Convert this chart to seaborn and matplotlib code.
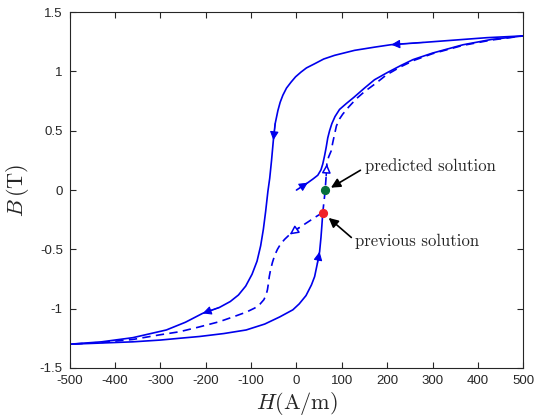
import numpy as np
import pandas as pd
import matplotlib
matplotlib.use('Agg')
import matplotlib.pyplot as plt
import seaborn as sns

# major loop, descending branch (H in A/m, B in T)
h_desc = [500, 420, 350, 280, 209, 172, 128, 84, 60, 40, 22, 10, -2, -12, -22, -30, -36, -41, -47,
          -51, -55, -59, -63, -68, -73, -79, -87, -98, -112, -128, -146, -170, -207, -245, -287,
          -361, -430, -500]
b_desc = [1.30, 1.285, 1.265, 1.245, 1.226, 1.205, 1.178, 1.136, 1.105, 1.065, 1.03, 0.995, 0.955,
          0.91, 0.86, 0.80, 0.74, 0.67, 0.56, 0.42, 0.25, 0.10, -0.01, -0.18, -0.33, -0.47, -0.60,
          -0.71, -0.81, -0.885, -0.94, -0.99, -1.04, -1.115, -1.18, -1.245, -1.28, -1.30]

# major loop, ascending branch up to the previous solution
h_asc_lo = [-500, -430, -361, -300, -258, -214, -160, -111, -70, -37, -8, 6, 21, 33, 40, 46, 51,
            54, 56, 58]
b_asc_lo = [-1.30, -1.29, -1.28, -1.265, -1.25, -1.235, -1.21, -1.18, -1.13, -1.07, -1.01, -0.96,
            -0.89, -0.80, -0.73, -0.62, -0.52, -0.40, -0.30, -0.19]

# ascending branch, upper part
h_asc_hi = [0, 14, 25, 37, 47, 54, 58, 62, 65.5, 69, 73, 78, 85, 95, 110, 126, 150, 172, 200, 230,
            257, 300, 367, 430, 500]
b_asc_hi = [0.0, 0.035, 0.062, 0.095, 0.125, 0.17, 0.22, 0.29, 0.36, 0.44, 0.50, 0.56, 0.62, 0.68,
            0.73, 0.78, 0.86, 0.93, 0.99, 1.05, 1.10, 1.155, 1.225, 1.27, 1.30]

# dashed curves starting from the previous solution
h_dash_dn = [58, 45, 25, 5, -15, -26, -35, -42, -48, -53, -57, -60, -62, -64, -67, -72, -80, -92,
             -111, -140, -170, -215, -258, -300, -361, -430, -500]
b_dash_dn = [-0.19, -0.22, -0.27, -0.32, -0.375, -0.415, -0.455, -0.50, -0.55, -0.61, -0.67,
             -0.73, -0.79, -0.84, -0.885, -0.925, -0.96, -0.995, -1.03, -1.07, -1.11, -1.155,
             -1.195, -1.22, -1.26, -1.285, -1.30]
h_dash_up = [58, 60, 62, 64, 65.5, 67, 71, 76.5, 80, 84, 88, 95, 102, 115, 132, 150, 175, 198,
             230, 260, 300, 367, 430, 500]
b_dash_up = [-0.19, -0.12, -0.05, 0.04, 0.12, 0.22, 0.28, 0.33, 0.40, 0.47, 0.54, 0.60, 0.64, 0.70,
             0.77, 0.83, 0.90, 0.97, 1.04, 1.095, 1.15, 1.22, 1.265, 1.30]

prev_sol = (58, -0.19)
pred_sol = (63, 0.0)

sns.set_theme(style='ticks')
plt.rcParams['font.family'] = ['Liberation Sans', 'DejaVu Sans']
plt.rcParams['mathtext.fontset'] = 'cm'

blue = '#0000ec'
fig, ax = plt.subplots(figsize=(5.45, 4.2), dpi=100)
fig.subplots_adjust(left=0.128, right=0.960, top=0.971, bottom=0.124)

curves = [(h_desc, b_desc, '-'), (h_asc_lo, b_asc_lo, '-'), (h_asc_hi, b_asc_hi, '-'),
          (h_dash_dn, b_dash_dn, '--'), (h_dash_up, b_dash_up, '--')]
for hh, bb, ls in curves:
    df = pd.DataFrame({'H': hh, 'B': bb})
    sns.lineplot(data=df, x='H', y='B', sort=False, estimator=None, color=blue, lw=1.2, ax=ax)
    if ls == '--':
        ax.lines[-1].set_dashes((5, 3.2))


def head(hh, bb, i, filled=True):
    ax.annotate('', xy=(hh[i], bb[i]), xytext=(hh[i - 1], bb[i - 1]),
                arrowprops=dict(arrowstyle='-|>', mutation_scale=13, shrinkA=0, shrinkB=0,
                                fc=blue if filled else 'white', ec=blue,
                                lw=0.8 if filled else 1.1))


head(h_desc, b_desc, 4)
head(h_desc, b_desc, 19)
head(h_desc, b_desc, 32)
head(h_asc_lo, b_asc_lo, 16)
head(h_asc_hi, b_asc_hi, 2)
head(h_dash_dn, b_dash_dn, 4, filled=False)
head(h_dash_up, b_dash_up, 5, filled=False)

ax.plot(*prev_sol, 'o', color='#f02028', ms=5.6, zorder=5)
ax.plot(*pred_sol, 'o', color='#06703c', ms=5.6, zorder=5)

ax.annotate('', xy=(pred_sol[0] + 13, pred_sol[1] + 0.02), xytext=(141, 0.167),
            arrowprops=dict(arrowstyle='-|>', mutation_scale=14, color='black', lw=1.2,
                            shrinkA=0, shrinkB=0))
ax.annotate('', xy=(prev_sol[0] + 13, prev_sol[1] - 0.045), xytext=(121, -0.40),
            arrowprops=dict(arrowstyle='-|>', mutation_scale=14, color='black', lw=1.2,
                            shrinkA=0, shrinkB=0))
ax.text(152, 0.2, 'predicted solution', family='cmr10', fontsize=12, va='center', ha='left')
ax.text(130, -0.43, 'previous solution', family='cmr10', fontsize=12, va='center', ha='left')

ax.set_xlim(-500, 500)
ax.set_ylim(-1.5, 1.5)
ax.set_xticks(np.arange(-500, 501, 100))
ax.set_yticks(np.arange(-1.5, 1.51, 0.5))
ax.set_yticklabels(['-1.5', '-1', '-0.5', '0', '0.5', '1', '1.5'])
ax.set_xticklabels([str(v) for v in range(-500, 501, 100)])
ax.tick_params(direction='in', length=4, width=0.8, color='#262626', labelsize=9.5,
               top=True, right=True, labelcolor='#262626', pad=5)
for sp in ax.spines.values():
    sp.set_color('#262626')
    sp.set_linewidth(0.8)
ax.set_xlabel(r'$H(\mathrm{A/m})$', fontsize=16, labelpad=2)
ax.set_ylabel(r'$B\,(\mathrm{T})$', fontsize=16, labelpad=6)

plt.savefig('out.png', dpi=100)
